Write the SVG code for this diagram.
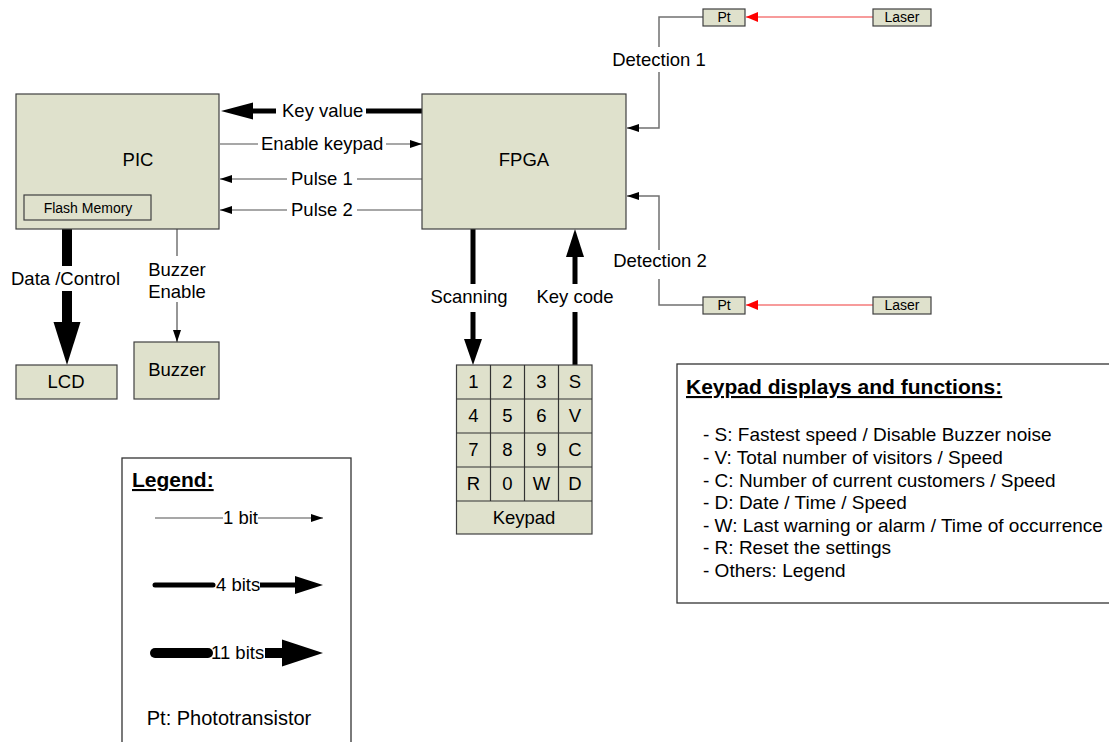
<svg xmlns="http://www.w3.org/2000/svg" width="1109" height="742" viewBox="0 0 1109 742">
<style>
  .box { fill: #dfe1cc; stroke: #404040; stroke-width: 1.2; }
  .frame { fill: #ffffff; stroke: #333333; stroke-width: 1.3; }
  text { font-family: "Liberation Sans", Arial, sans-serif; fill: #000; }
  .t18 { font-size: 18.5px; }
  .t19 { font-size: 19px; }
  .t14 { font-size: 14px; }
  .mid { text-anchor: middle; }
  .thin { stroke: #505050; stroke-width: 1.2; fill: none; }
  .gray { stroke: #707070; stroke-width: 1.5; fill: none; }
  .b4 { stroke: #000; stroke-width: 5; fill: none; }
  .b11 { stroke: #000; stroke-width: 10; fill: none; }
  .red { stroke: #f57a7a; stroke-width: 1.5; fill: none; }
  .head { fill: #000; }
  .bold { font-weight: bold; font-size: 21px; text-decoration: underline; }
</style>
<defs>
  <marker id="ah" viewBox="0 0 12 8" refX="12" refY="4" markerWidth="12" markerHeight="8" markerUnits="userSpaceOnUse" orient="auto">
    <path d="M0,0 L12,4 L0,8 Z" fill="#000"/>
  </marker>
  <marker id="ahr" viewBox="0 0 12 10" refX="12" refY="5" markerWidth="12" markerHeight="10" markerUnits="userSpaceOnUse" orient="auto">
    <path d="M0,0 L12,5 L0,10 Z" fill="#ff0000"/>
  </marker>
</defs>

<g id="connectors">
  <!-- Key value (4 bits) FPGA -> PIC -->
  <line class="b4" x1="422" y1="111" x2="366" y2="111"/>
  <line class="b4" x1="276" y1="111" x2="250" y2="111"/>
  <polygon class="head" points="221,111 253,102.5 253,119.5"/>
  <text class="t18" x="282" y="117">Key value</text>
  <!-- Enable keypad -->
  <line class="thin" x1="220" y1="144" x2="258" y2="144"/>
  <line class="thin" x1="386" y1="144" x2="422" y2="144" marker-end="url(#ah)"/>
  <text class="t18" x="261" y="150">Enable keypad</text>
  <!-- Pulse 1 -->
  <line class="thin" x1="422" y1="179" x2="357" y2="179"/>
  <line class="thin" x1="287" y1="179" x2="220" y2="179" marker-end="url(#ah)"/>
  <text class="t18" x="291" y="185">Pulse 1</text>
  <!-- Pulse 2 -->
  <line class="thin" x1="422" y1="210" x2="357" y2="210"/>
  <line class="thin" x1="287" y1="210" x2="220" y2="210" marker-end="url(#ah)"/>
  <text class="t18" x="291" y="216">Pulse 2</text>
  <!-- Data /Control (11 bits) -->
  <line class="b11" x1="67" y1="229" x2="67" y2="266"/>
  <line class="b11" x1="67" y1="291" x2="67" y2="326"/>
  <polygon class="head" points="53.5,322 80.5,322 67,365"/>
  <text class="t18" x="11" y="285">Data /Control</text>
  <!-- Buzzer Enable -->
  <line class="thin" x1="177" y1="229" x2="177" y2="256"/>
  <line class="thin" x1="177" y1="302" x2="177" y2="342" marker-end="url(#ah)"/>
  <text class="t18 mid" x="177" y="276">Buzzer</text>
  <text class="t18 mid" x="177" y="298">Enable</text>
  <!-- Scanning (4 bits) FPGA -> Keypad -->
  <line class="b4" x1="473" y1="229" x2="473" y2="284"/>
  <line class="b4" x1="473" y1="312" x2="473" y2="342"/>
  <polygon class="head" points="464,339 482,339 473,365"/>
  <text class="t18 mid" x="469" y="303">Scanning</text>
  <!-- Key code (4 bits) Keypad -> FPGA -->
  <line class="b4" x1="575" y1="365" x2="575" y2="312"/>
  <line class="b4" x1="575" y1="284" x2="575" y2="254"/>
  <polygon class="head" points="566,257 584,257 575,229"/>
  <text class="t18 mid" x="575" y="303">Key code</text>
  <!-- Detection 1 -->
  <polyline class="gray" points="703,17 659,17 659,47"/>
  <polyline class="gray" points="659,72 659,128 627,128" marker-end="url(#ah)"/>
  <text class="t18 mid" x="659" y="66">Detection 1</text>
  <!-- Detection 2 -->
  <polyline class="gray" points="703,305 659,305 659,279"/>
  <polyline class="gray" points="659,250 659,196 627,196" marker-end="url(#ah)"/>
  <text class="t18 mid" x="660" y="267">Detection 2</text>
  <!-- Laser beams -->
  <line class="red" x1="873" y1="17" x2="746" y2="17" marker-end="url(#ahr)"/>
  <line class="red" x1="873" y1="305" x2="746" y2="305" marker-end="url(#ahr)"/>
</g>

<g id="pic">
  <rect class="box" x="16" y="94" width="203" height="135"/>
  <text class="t18 mid" x="138" y="166">PIC</text>
</g>
<g id="flash">
  <rect class="box" x="24" y="195" width="127" height="25"/>
  <text class="t14 mid" x="88" y="213">Flash Memory</text>
</g>
<g id="fpga">
  <rect class="box" x="422" y="94" width="204" height="135"/>
  <text class="t18 mid" x="524" y="166">FPGA</text>
</g>
<g id="lcd">
  <rect class="box" x="16" y="365" width="101" height="34"/>
  <text class="t18 mid" x="66" y="388">LCD</text>
</g>
<g id="buzzer">
  <rect class="box" x="134" y="342" width="85" height="57"/>
  <text class="t18 mid" x="177" y="376">Buzzer</text>
</g>
<g id="pt1">
  <rect class="box" x="703" y="9" width="42" height="17"/>
  <text class="t14 mid" x="724" y="22">Pt</text>
</g>
<g id="laser1">
  <rect class="box" x="873" y="9" width="58" height="17"/>
  <text class="t14 mid" x="902" y="22">Laser</text>
</g>
<g id="pt2">
  <rect class="box" x="703" y="297" width="42" height="17"/>
  <text class="t14 mid" x="724" y="310">Pt</text>
</g>
<g id="laser2">
  <rect class="box" x="873" y="297" width="58" height="17"/>
  <text class="t14 mid" x="902" y="310">Laser</text>
</g>

<g id="keypad">
  <rect class="box" x="456.5" y="365" width="135.5" height="169"/>
  <g class="thin" style="stroke:#333">
    <line x1="490.5" y1="365" x2="490.5" y2="501"/>
    <line x1="524.5" y1="365" x2="524.5" y2="501"/>
    <line x1="558.5" y1="365" x2="558.5" y2="501"/>
    <line x1="456.5" y1="399" x2="592" y2="399"/>
    <line x1="456.5" y1="433" x2="592" y2="433"/>
    <line x1="456.5" y1="467" x2="592" y2="467"/>
    <line x1="456.5" y1="501" x2="592" y2="501"/>
  </g>
  <g class="t18">
    <text class="mid" x="473.5" y="388">1</text>
    <text class="mid" x="507.5" y="388">2</text>
    <text class="mid" x="541.5" y="388">3</text>
    <text class="mid" x="575" y="388">S</text>
    <text class="mid" x="473.5" y="422">4</text>
    <text class="mid" x="507.5" y="422">5</text>
    <text class="mid" x="541.5" y="422">6</text>
    <text class="mid" x="575" y="422">V</text>
    <text class="mid" x="473.5" y="456">7</text>
    <text class="mid" x="507.5" y="456">8</text>
    <text class="mid" x="541.5" y="456">9</text>
    <text class="mid" x="575" y="456">C</text>
    <text class="mid" x="473.5" y="490">R</text>
    <text class="mid" x="507.5" y="490">0</text>
    <text class="mid" x="541.5" y="490">W</text>
    <text class="mid" x="575" y="490">D</text>
    <text class="mid" x="524" y="524">Keypad</text>
  </g>
</g>

<g id="legend">
  <rect class="frame" x="122" y="458" width="229" height="290"/>
  <text class="bold" x="132" y="487">Legend:</text>
  <line class="thin" x1="155" y1="518" x2="223" y2="518"/>
  <line class="thin" x1="258" y1="518" x2="323" y2="518" marker-end="url(#ah)"/>
  <text class="t18" x="223" y="524">1 bit</text>
  <line class="b4" x1="155" y1="585" x2="213" y2="585" stroke-linecap="round"/>
  <line class="b4" x1="260" y1="585" x2="297" y2="585"/>
  <polygon class="head" points="295,576 323,585 295,594"/>
  <text class="t18" x="216" y="591">4 bits</text>
  <line class="b11" x1="155" y1="653" x2="208" y2="653" stroke-linecap="round"/>
  <line class="b11" x1="265" y1="653" x2="284" y2="653"/>
  <polygon class="head" points="282,639.5 323,653 282,666.5"/>
  <text class="t18" x="211" y="659">11 bits</text>
  <text class="mid" style="font-size:20px" x="229" y="725">Pt: Phototransistor</text>
</g>

<g id="functions">
  <rect class="frame" x="677" y="364" width="440" height="239"/>
  <text class="bold" x="686" y="394">Keypad displays and functions:</text>
  <g class="t19">
    <text x="703" y="441">- S: Fastest speed / Disable Buzzer noise</text>
    <text x="703" y="464">- V: Total number of visitors / Speed</text>
    <text x="703" y="487">- C: Number of current customers / Speed</text>
    <text x="703" y="509">- D: Date / Time / Speed</text>
    <text x="703" y="532">- W: Last warning or alarm / Time of occurrence</text>
    <text x="703" y="554">- R: Reset the settings</text>
    <text x="703" y="577">- Others: Legend</text>
  </g>
</g>
</svg>
